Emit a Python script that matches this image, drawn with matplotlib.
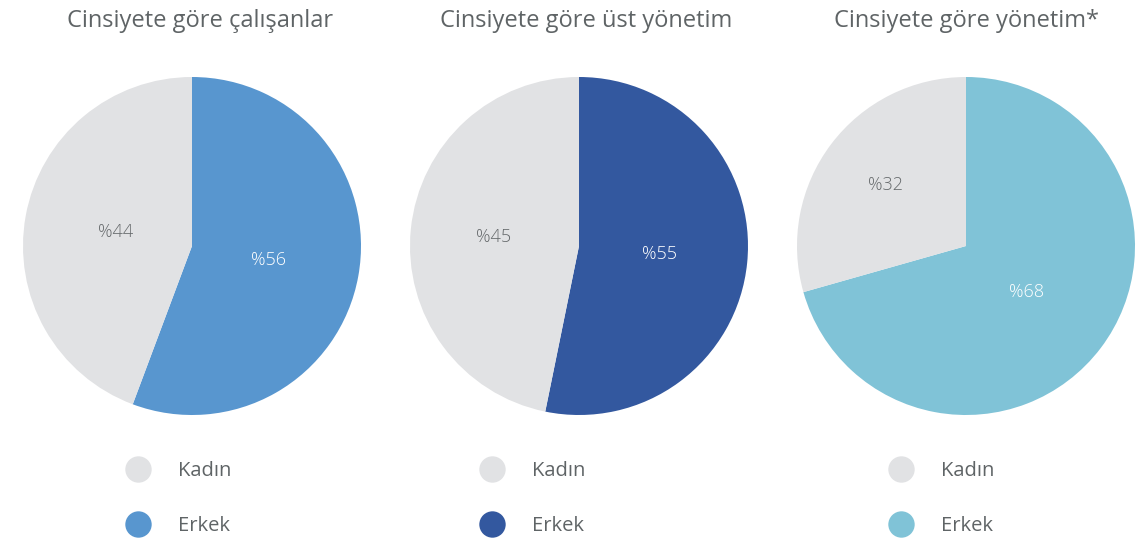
import numpy as np
import matplotlib.pyplot as plt
from matplotlib.lines import Line2D

# chart data
titles = ["Cinsiyete göre çalışanlar", "Cinsiyete göre üst yönetim", "Cinsiyete göre yönetim*"]
legend_labels = ["Kadın", "Erkek"]
# slice sizes as drawn in the picture (share of the circle, %)
erkek_share = [55.7, 53.2, 70.6]
kadin_share = [44.3, 46.8, 29.4]
# printed labels
erkek_label = ["%56", "%55", "%68"]
kadin_label = ["%44", "%45", "%32"]

# style
gray = "#E1E2E4"
blues = ["#5896CF", "#33589F", "#80C3D7"]
label_radius = [(0.46, 0.46), (0.48, 0.51), (0.45, 0.60)]  # (erkek, kadin)
legend_marker_x = [138, 492, 901]
plt.rcParams["font.family"] = ["Open Sans", "DejaVu Sans"]
text_gray = "#5F6466"

fig = plt.figure(figsize=(11.41, 5.38), dpi=100)
W, H = 1141, 538
centers_x = [192, 579, 966]
title_x = [200, 586, 966]
r = 169
cy = 246

for i in range(3):
    cx = centers_x[i]
    ax = fig.add_axes([(cx - r) / W, (H - cy - r) / H, 2 * r / W, 2 * r / H])
    vals = [erkek_share[i], kadin_share[i]]
    wedges, _ = ax.pie(vals, colors=[blues[i], gray], startangle=90,
                       counterclock=False, radius=1,
                       wedgeprops=dict(linewidth=0))
    texts = [erkek_label[i], kadin_label[i]]
    for w, t, rad, col in zip(wedges, texts, label_radius[i], ["white", "#666A6C"]):
        ang = np.deg2rad((w.theta1 + w.theta2) / 2)
        ax.text(rad * np.cos(ang), rad * np.sin(ang), t, ha="center",
                va="center", fontsize=13, color=col, fontweight="light")
    ax.set_xlim(-1, 1)
    ax.set_ylim(-1, 1)
    ax.set_aspect("equal")
    ax.axis("off")

    fig.text(title_x[i] / W, 1 - 21 / H, titles[i], ha="center", va="center",
             fontsize=17, color=text_gray)

    handles = [Line2D([], [], marker="o", linestyle="none", markersize=19,
                      markerfacecolor=c, markeredgewidth=0)
               for c in [gray, blues[i]]]
    fig.legend(handles, legend_labels, loc="upper left",
               bbox_to_anchor=((legend_marker_x[i] - 15) / W, 1 - 461 / H),
               frameon=False, fontsize=14.5, handlelength=1.5,
               handletextpad=1.24, borderpad=0, borderaxespad=0,
               labelspacing=1.72, labelcolor=text_gray)

fig.savefig("out.png", dpi=100)
